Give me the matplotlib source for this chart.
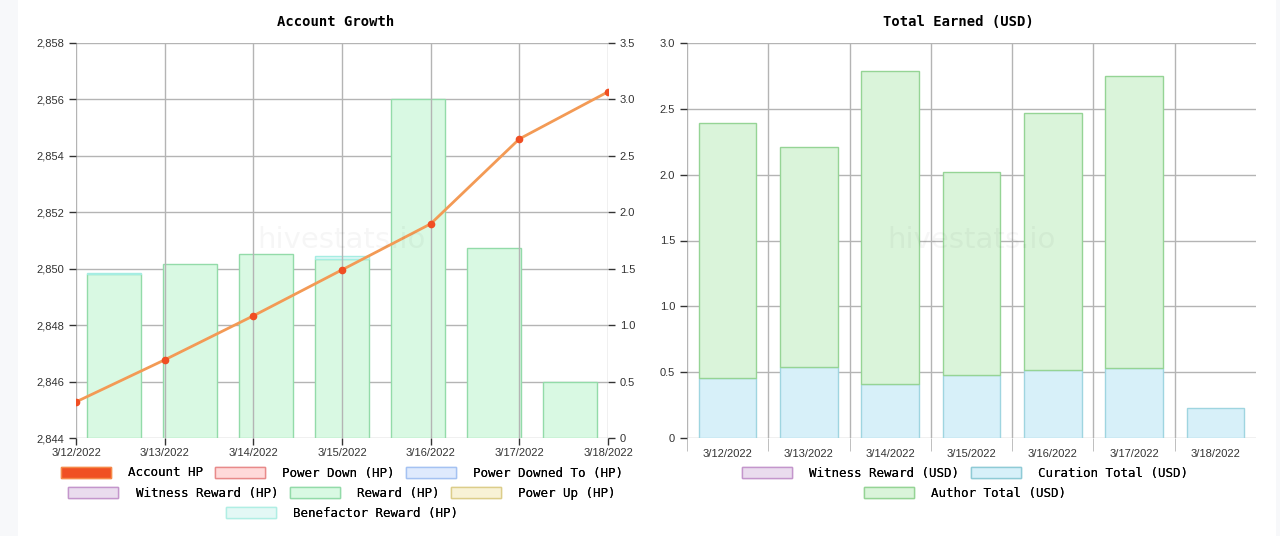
import matplotlib.pyplot as plt
from matplotlib.patches import Patch
from matplotlib.ticker import FuncFormatter

# data
dates = ["3/12/2022", "3/13/2022", "3/14/2022", "3/15/2022", "3/16/2022", "3/17/2022", "3/18/2022"]
account_hp = [2845.28, 2846.77, 2848.33, 2849.96, 2851.59, 2854.60, 2856.27]
reward_hp = [1.45, 1.54, 1.63, 1.59, 3.0, 1.68, 0.5]
benefactor_hp = [0.01, 0.0, 0.0, 0.02, 0.0, 0.0, 0.0]
curation_usd = [0.455, 0.54, 0.41, 0.48, 0.52, 0.53, 0.23]
author_usd = [1.935, 1.67, 2.38, 1.54, 1.95, 2.22, 0.0]

W, H = 1280, 536
fig = plt.figure(figsize=(12.8, 5.36), dpi=100)
fig.patch.set_facecolor('#f7f8fa')
fig.add_artist(plt.Rectangle((18 / W, 0), (1276 - 18) / W, 1, transform=fig.transFigure,
                             facecolor='white', edgecolor='none', zorder=-10))

mono = 'DejaVu Sans Mono'
tickfont = ['Liberation Sans Narrow', 'Liberation Sans', 'DejaVu Sans']
gridc = '#b4b4b4'


def box(l, r):
    return [l / W, (H - 438) / H, (r - l) / W, 395 / H]


def style(ax):
    for s in ax.spines.values():
        s.set_visible(False)
    ax.tick_params(colors='#333333', labelsize=8, length=5, width=1)
    for lab in ax.get_xticklabels() + ax.get_yticklabels():
        lab.set_family(tickfont)


def edges(vals, c):
    # no outline on empty segments
    return [c if v > 0 else 'none' for v in vals]


def watermark(a):
    a.text(0.5, 0.5, 'hivestats.io', transform=a.transAxes, ha='center', va='center',
           fontsize=21, color='black', alpha=0.035, zorder=10)


# ---- Account Growth ----
ax = fig.add_axes(box(76, 608))
ax2 = ax.twinx()
ax.set_zorder(ax2.get_zorder() + 1)
ax.patch.set_visible(False)

n = len(dates)
xs = list(range(n))
step = (n - 1) / n
bx = [(i + 0.5) * step for i in range(n)]
bw = 0.71 * step
ax2.bar(bx, reward_hp, width=bw, color='#d9f9e3', edgecolor=edges(reward_hp, '#93dba9'), linewidth=1)
ax2.bar(bx, benefactor_hp, width=bw, bottom=reward_hp, color='#e0f7f5',
        edgecolor=edges(benefactor_hp, '#a5ede2'), linewidth=1)
ax2.set_ylim(0, 3.5)
ax2.set_yticks([0, 0.5, 1, 1.5, 2, 2.5, 3, 3.5])
ax2.set_yticklabels(['0', '0.5', '1.0', '1.5', '2.0', '2.5', '3.0', '3.5'])
ax2.grid(axis='y', color=gridc, lw=1)
ax2.set_axisbelow(True)

ax.plot(xs, account_hp, color='#f39a55', lw=2, marker='o', ms=4.5,
        mfc='#f04e23', mec='#f04e23', zorder=5)
ax.set_xlim(0, n - 1)
ax.set_ylim(2844, 2858)
ax.set_yticks(range(2844, 2859, 2))
ax.yaxis.set_major_formatter(FuncFormatter(lambda v, p: f"{int(v):,}"))
ax.set_xticks(xs)
ax.set_xticklabels(dates)
ax.grid(axis='x', color=gridc, lw=1)
style(ax)
style(ax2)
ax.tick_params(axis='x', pad=2)
watermark(ax)
fig.text(336 / W, 1 - 22 / H, 'Account Growth', ha='center', va='center',
         family=mono, weight='bold', fontsize=10)

# ---- Total Earned ----
bx2 = fig.add_axes(box(687, 1256))
cx = [i + 0.5 for i in range(n)]
bx2.bar(cx, curation_usd, width=0.71, color='#d7f0f9', edgecolor=edges(curation_usd, '#9fd5e0'), linewidth=1)
bx2.bar(cx, author_usd, width=0.71, bottom=curation_usd, color='#daf4da',
        edgecolor=edges(author_usd, '#95d495'), linewidth=1)
bx2.set_xlim(0, n)
bx2.set_ylim(0, 3.0)
bx2.set_yticks([0, 0.5, 1, 1.5, 2, 2.5, 3])
bx2.set_yticklabels(['0', '0.5', '1.0', '1.5', '2.0', '2.5', '3.0'])
bx2.set_xticks(cx)
bx2.set_xticklabels(dates)
bx2.set_xticks(range(n), minor=True)
style(bx2)
bx2.tick_params(axis='x', which='major', length=0, pad=8)
bx2.tick_params(axis='x', which='minor', length=9, color=gridc)
bx2.grid(axis='y', color=gridc, lw=1)
bx2.grid(axis='x', which='minor', color=gridc, lw=1)
bx2.set_axisbelow(True)
watermark(bx2)
fig.text(958 / W, 1 - 22 / H, 'Total Earned (USD)', ha='center', va='center',
         family=mono, weight='bold', fontsize=10)


# ---- legends ----
def legend_row(items, cx_px, cy_px):
    handles = [Patch(facecolor=f, edgecolor=e, lw=1) for _, f, e in items]
    labels = [t for t, _, _ in items]
    lg = fig.legend(handles, labels, loc='center', bbox_to_anchor=(cx_px / W, 1 - cy_px / H),
                    ncol=len(items), frameon=False, prop={'family': mono, 'size': 9},
                    handlelength=4.0, handleheight=1.0, handletextpad=1.4, columnspacing=0.9,
                    borderpad=0)
    fig.add_artist(lg)


legend_row([('Account HP', '#f05023', '#f58a4a'),
            ('Power Down (HP)', '#ffdada', '#e88a8a'),
            ('Power Downed To (HP)', '#dfeafd', '#a5c2f2')], 342, 473)
legend_row([('Witness Reward (HP)', '#eadcee', '#c496cc'),
            ('Reward (HP)', '#d9f9e3', '#93dba9'),
            ('Power Up (HP)', '#f8f2d6', '#dccd8a')], 342, 493)
legend_row([('Benefactor Reward (HP)', '#e3f8f5', '#b0eee4')], 342, 513)
legend_row([('Witness Reward (USD)', '#eadcee', '#c496cc'),
            ('Curation Total (USD)', '#d7f0f9', '#8fcbd6')], 965, 473)
legend_row([('Author Total (USD)', '#daf4da', '#95d495')], 965, 493)

fig.savefig('out.png', dpi=100, facecolor=fig.get_facecolor())
